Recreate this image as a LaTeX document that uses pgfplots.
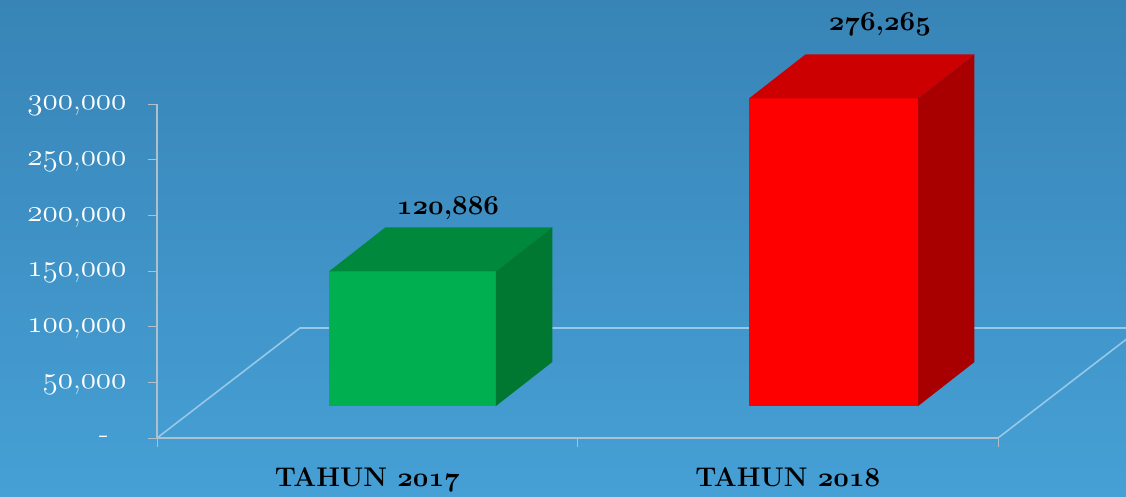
\documentclass[border=0pt]{standalone}
\usepackage{graphicx}
\usepackage{pgfplots}
\pgfplotsset{compat=1.18}
\definecolor{bgtop}{RGB}{56,132,183}
\definecolor{bgbot}{RGB}{70,160,213}
\definecolor{axgray}{RGB}{175,192,204}
\definecolor{floorc}{RGB}{150,200,232}
\definecolor{gfront}{RGB}{0,176,80}
\definecolor{gtop}{RGB}{0,136,60}
\definecolor{gside}{RGB}{0,120,50}
\definecolor{rfront}{RGB}{255,0,0}
\definecolor{rtop}{RGB}{204,0,0}
\definecolor{rside}{RGB}{168,0,0}
\newcommand\osf[1]{\scalebox{1.25}{\fontsize{24.88}{30}\usefont{OML}{cmm}{m}{it}#1}}
\newcommand\bosf[1]{\scalebox{1.09}{\fontsize{24.88}{30}\usefont{OML}{cmm}{b}{it}#1}}
\newcommand\tl[2]{\osf{#1},\osf{#2}}
\newcommand\btl[2]{\bosf{#1},\bosf{#2}}
\begin{document}
\begin{tikzpicture}[x=1pt,y=1pt]
\useasboundingbox (0,0) rectangle (1126,496);
\shade[top color=bgtop,bottom color=bgbot] (0,0) rectangle (1126,496);
\begin{axis}[
  at={(157pt,58pt)}, anchor=south west, scale only axis,
  width=841pt, height=334pt,
  xmin=0, xmax=2, ymin=0, ymax=300000,
  clip=false,
  scaled y ticks=false,
  axis lines*=left,
  axis line style={draw=axgray, line width=1.5pt, -},
  xtick={0,1,2}, xticklabels={},
  extra x ticks={0.5,1.5},
  extra x tick labels={TAHUN \bosf{2017}, TAHUN \bosf{2018}},
  extra x tick style={major tick length=0pt},
  xticklabel style={font=\bfseries\fontsize{27}{32}\selectfont, text=black, yshift=-26pt},
  ytick={0,50000,100000,150000,200000,250000,300000},
  yticklabels={\raisebox{-3pt}{-}\kern18pt\null, \tl{50}{000}, \tl{100}{000}, \tl{150}{000}, \tl{200}{000}, \tl{250}{000}, \tl{300}{000}},
  yticklabel style={font=\fontsize{31}{36}\selectfont, text=white, xshift=-18pt, yshift=-2pt},
  tick align=outside, major tick length=9pt,
  tick style={draw=axgray, line width=1pt},
]
% floor of the 3D plot
\addplot[no marks, draw=floorc, line width=1.6pt] coordinates {(0,0) (0.340,98802) (2.340,98802) (2,0)};
% TAHUN 2017 : value 120886, bar base at 28742, depth offset (0.1344, 39500)
\addplot[fill=gfront, draw=none] coordinates {(0.409,28742) (0.409,149628) (0.806,149628) (0.806,28742)} -- cycle;
\addplot[fill=gtop, draw=none] coordinates {(0.409,149628) (0.543,189128) (0.940,189128) (0.806,149628)} -- cycle;
\addplot[fill=gside, draw=none] coordinates {(0.806,28742) (0.940,68242) (0.940,189128) (0.806,149628)} -- cycle;
% TAHUN 2018 : value 276265
\addplot[fill=rfront, draw=none] coordinates {(1.408,28742) (1.408,305007) (1.810,305007) (1.810,28742)} -- cycle;
\addplot[fill=rtop, draw=none] coordinates {(1.408,305007) (1.542,344507) (1.944,344507) (1.810,305007)} -- cycle;
\addplot[fill=rside, draw=none] coordinates {(1.810,28742) (1.944,68242) (1.944,344507) (1.810,305007)} -- cycle;
\node[font=\bfseries\fontsize{27}{32}\selectfont] at (axis cs:0.692,206586) {\btl{120}{886}};
\node[font=\bfseries\fontsize{27}{32}\selectfont] at (axis cs:1.719,371855) {\btl{276}{265}};
\end{axis}
\end{tikzpicture}
\end{document}
